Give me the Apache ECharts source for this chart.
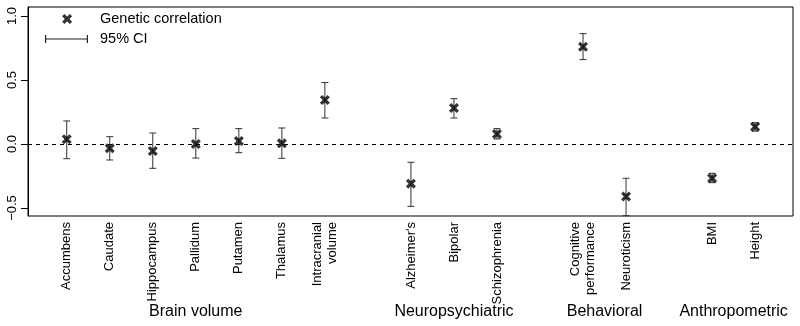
<!DOCTYPE html>
<html>
<head>
<meta charset="utf-8">
<script src="https://cdn.jsdelivr.net/npm/echarts@6/dist/echarts.min.js"></script>
<style>html,body{margin:0;padding:0;background:#fff;}#chart{width:800px;height:326px;}</style>
</head>
<body>
<div id="chart"></div>
<script>
const categories = ['Accumbens','Caudate','Hippocampus','Pallidum','Putamen','Thalamus','Intracranial\nvolume',"Alzheimer's",'Bipolar','Schizophrenia','Cognitive\nperformance','Neuroticism','BMI','Height'];
const slots = [0,1,2,3,4,5,6,8,9,10,12,13,15,16];
const rg = [0.037,-0.034,-0.055,0.0,0.023,0.005,0.344,-0.31,0.281,0.078,0.76,-0.41,-0.268,0.135];
const ciLow = [-0.115,-0.125,-0.19,-0.11,-0.068,-0.112,0.203,-0.487,0.203,0.039,0.659,-0.56,-0.302,0.10];
const ciHigh = [0.18,0.057,0.086,0.12,0.12,0.125,0.48,-0.143,0.354,0.12,0.862,-0.268,-0.229,0.166];
const groups = ['Brain volume','Neuropsychiatric','Behavioral','Anthropometric'];
const groupCenters = [3,9,12.5,15.5];
const yTicks = [-0.5,0,0.5,1.0];

const FONT = '"Liberation Sans", Arial, Helvetica, sans-serif';
const X_MARK = 'path://M19.2,-0.2L27.2,7.8L24.8,10.2L16.8,2.2Z M27.2,2.2L19.2,10.2L16.8,7.8L24.8,-0.2Z';
const X_LEGEND = X_MARK + ' M0,5L0,5L0,5Z M50,5L50,5L50,5Z';
const CI_LEGEND = 'path://M0,4.4L43,4.4L43,5.6L0,5.6Z M0,1L1.2,1L1.2,9L0,9Z M41.8,1L43,1L43,9L41.8,9Z M50,5L50,5L50,5Z';

const pointData = slots.map((s, i) => [s, rg[i]]);
const ciData = slots.map((s, i) => [s, ciLow[i], ciHigh[i]]);

const chart = echarts.init(document.getElementById('chart'), null, {renderer: 'canvas'});
chart.setOption({
  animation: false,
  textStyle: {fontFamily: FONT},
  grid: {left: 28, top: 7, right: 7, bottom: 110, show: true, borderColor: '#000', borderWidth: 1, backgroundColor: 'transparent'},
  legend: {
    orient: 'vertical', left: 45, top: 11, padding: 0, itemGap: 4,
    itemWidth: 50, itemHeight: 10,
    textStyle: {fontSize: 14.5, color: '#000', fontFamily: FONT, lineHeight: 16},
    data: [
      {name: 'Genetic correlation', icon: X_LEGEND, itemStyle: {color: '#000'}},
      {name: '95% CI', icon: CI_LEGEND, itemStyle: {color: '#222'}}
    ],
    selectedMode: false
  },
  xAxis: [
    {
      type: 'value', min: -0.9, max: 16.88, position: 'bottom',
      axisLine: {show: false, onZero: false}, axisTick: {show: false}, splitLine: {show: false},
      axisLabel: {
        customValues: slots, rotate: 90, margin: 6, fontSize: 13, color: '#000', fontFamily: FONT,
        lineHeight: 15,
        formatter: v => categories[slots.indexOf(v)] || ''
      }
    },
    {
      type: 'value', min: -0.9, max: 16.88, position: 'bottom',
      axisLine: {show: false, onZero: false}, axisTick: {show: false}, splitLine: {show: false},
      axisLabel: {
        customValues: groupCenters, margin: 88, fontSize: 16, color: '#000', fontFamily: FONT,
        formatter: v => groups[groupCenters.indexOf(v)] || ''
      }
    }
  ],
  yAxis: {
    type: 'value', min: -0.5625, max: 1.07,
    axisLine: {show: true, onZero: false, lineStyle: {color: '#000', width: 1}},
    axisTick: {show: true, customValues: yTicks, length: 7, lineStyle: {color: '#000'}},
    splitLine: {show: false},
    axisLabel: {
      customValues: yTicks, rotate: 90, margin: 9, fontSize: 13, color: '#000', fontFamily: FONT,
      formatter: v => (v < 0 ? '\u2212' : '') + Math.abs(v).toFixed(1)
    }
  },
  series: [
    {
      name: '95% CI', type: 'custom', xAxisIndex: 0, yAxisIndex: 0,
      itemStyle: {color: '#222'},
      encode: {x: 0, y: [1, 2]},
      data: ciData,
      renderItem: function (params, api) {
        const x = api.value(0);
        const lo = api.coord([x, api.value(1)]);
        const hi = api.coord([x, api.value(2)]);
        const w = 3.5;
        const style = {stroke: '#333', lineWidth: 1, fill: null};
        return {
          type: 'group',
          children: [
            {type: 'line', shape: {x1: lo[0], y1: lo[1], x2: hi[0], y2: hi[1]}, style: style},
            {type: 'line', shape: {x1: lo[0] - w, y1: lo[1], x2: lo[0] + w, y2: lo[1]}, style: style},
            {type: 'line', shape: {x1: hi[0] - w, y1: hi[1], x2: hi[0] + w, y2: hi[1]}, style: style}
          ]
        };
      },
      z: 2
    },
    {
      name: 'Genetic correlation', type: 'scatter', xAxisIndex: 0, yAxisIndex: 0,
      symbol: X_MARK, symbolSize: 10, symbolKeepAspect: true,
      itemStyle: {color: '#000'},
      data: pointData,
      z: 3,
      markLine: {
        silent: true, symbol: 'none', label: {show: false},
        lineStyle: {color: '#000', width: 1, type: [4, 4]},
        data: [{yAxis: 0}]
      }
    }
  ]
});
</script>
</body>
</html>
